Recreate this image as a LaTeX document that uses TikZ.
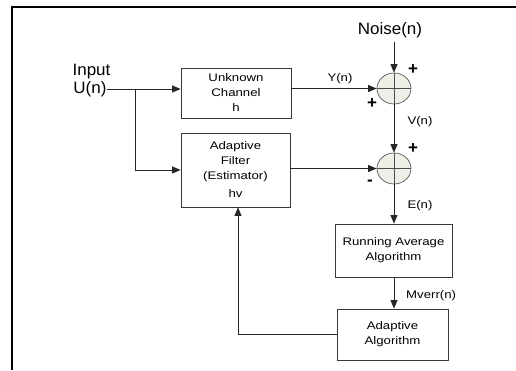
\documentclass[tikz,border=0pt]{standalone}
\usepackage{fontspec}
\setmainfont{Liberation Sans}
\newfontfamily\boxfont[FakeStretch=1.2]{Liberation Sans}
\newfontfamily\bigfont[FakeStretch=1.03]{Liberation Sans}
\usetikzlibrary{arrows.meta,shapes.geometric}
\definecolor{sumfill}{HTML}{EEEFE7}
\tikzset{
  blk/.style={draw=black!78, line width=0.8pt, rectangle, align=center, inner sep=0pt,
    font=\boxfont\fontsize{11}{15}\selectfont},
  sumnode/.style={draw=black!65, fill=sumfill, ellipse, line width=0.7pt,
    minimum width=34pt, minimum height=31pt, inner sep=0pt},
  wire/.style={draw=black!85, line width=0.8pt},
  arr/.style={wire, -{Triangle[length=8.5pt,width=7pt]}},
  lbl/.style={font=\boxfont\fontsize{11}{13}\selectfont, inner sep=0pt},
  big/.style={font=\bigfont\fontsize{16.5}{18}\selectfont, inner sep=0pt},
  sgn/.style={font=\bfseries\fontsize{17}{18}\selectfont, inner sep=0pt}
}
\begin{document}
\begin{tikzpicture}[x=1pt,y=-1pt]
\useasboundingbox (0,0) rectangle (516,370);
% frame
\draw[line width=2pt] (11.5,370) -- (11.5,6.5) -- (516,6.5);

% blocks
\node[blk, minimum width=110pt, minimum height=50pt] (uc) at (236,93) {Unknown\\Channel\\h};
\node[blk, minimum width=109pt, minimum height=74pt] (af) at (235.5,170) {Adaptive\\Filter\\(Estimator)\\[3pt]hv};
\node[blk, minimum width=117pt, minimum height=53pt] (ra) at (393.5,250.5) {Running Average\\Algorithm};
\node[blk, minimum width=111pt, minimum height=51pt] (aa) at (392.5,334.5) {Adaptive\\Algorithm};

% summing junctions
\node[sumnode] (s1) at (394,88.5) {};
\node[sumnode] (s2) at (394,168.5) {};
\draw[draw=black!70, line width=0.6pt] (s1.west) -- (s1.east) (s1.north) -- (s1.south);
\draw[draw=black!70, line width=0.6pt] (s2.west) -- (s2.east) (s2.north) -- (s2.south);

% texts
\node[big] (inp) at (91.5,72) {Input};
\node[big] (un) at (90,89) {U(n)};
\node[big] (noise) at (390,30) {Noise(n)};
\node[lbl] (yn) at (340,79) {Y(n)};
\node[lbl] (vn) at (420,122) {V(n)};
\node[lbl] (en) at (420,206) {E(n)};
\node[lbl, anchor=west] (mv) at (406,296) {Mverr(n)};
\node[sgn] (p1) at (413,70) {+};
\node[sgn] (p2) at (372,104) {+};
\node[sgn] (p3) at (413,149) {+};
\node[sgn] (m1) at (370,183) {-};

% connectors
\coordinate (br) at (135,89);
\draw[arr] (un.east |- br) -- (uc.west |- br);
\draw[arr] (br) |- (af.west);
\draw[arr] (uc.east |- s1.west) -- (s1.west);
\draw[arr] (s1.north |- noise.south) ++(0,4) -- (s1.north);
\draw[arr] (s1.south) -- (s2.north);
\draw[arr] (af.east |- s2.west) -- (s2.west);
\draw[arr] (s2.south) -- (s2.south |- ra.north);
\draw[arr] (s2.south |- ra.south) -- (s2.south |- aa.north);
\draw[arr] (aa.west) -| ([xshift=2.5pt]af.south);
\end{tikzpicture}
\end{document}
